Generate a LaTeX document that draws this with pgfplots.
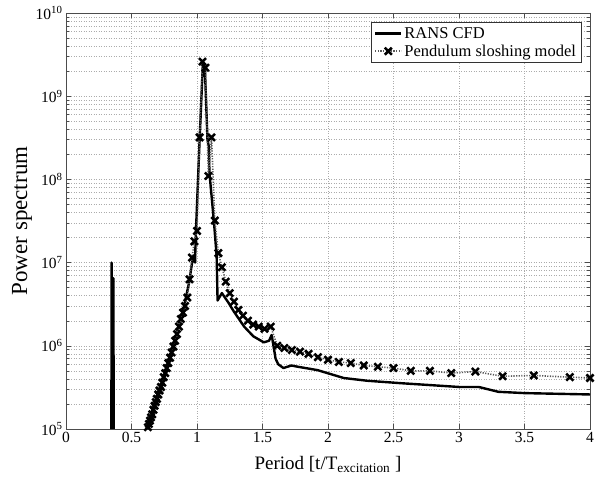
\documentclass[border=0pt]{standalone}
\usepackage{pgfplots}
\pgfplotsset{compat=1.18}
\usepackage{fontspec}
\setmainfont{Liberation Serif}
\begin{document}
\begin{tikzpicture}
\begin{axis}[
  at={(0,0)}, anchor=south west,
  scale only axis, width=524bp, height=416bp,
  ymode=log,
  xmin=0, xmax=4, ymin=1e5, ymax=1e10,
  xtick={0,0.5,1,1.5,2,2.5,3,3.5,4},
  xticklabels={0,0.5,1,1.5,2,2.5,3,3.5,4},
  ytick={1e5,1e6,1e7,1e8,1e9,1e10},
  yticklabels={10\textsuperscript{5},10\textsuperscript{6},10\textsuperscript{7},10\textsuperscript{8},10\textsuperscript{9},10\textsuperscript{10}},
  minor ytick={2e5,3e5,4e5,5e5,6e5,7e5,8e5,9e5,2e6,3e6,4e6,5e6,6e6,7e6,8e6,9e6,2e7,3e7,4e7,5e7,6e7,7e7,8e7,9e7,2e8,3e8,4e8,5e8,6e8,7e8,8e8,9e8,2e9,3e9,4e9,5e9,6e9,7e9,8e9,9e9},
  xtick pos=both, ytick pos=both,
  tick align=inside,
  major tick length=5bp, minor tick length=3bp,
  every tick/.style={black!70, line width=0.5bp},
  axis line style={black!70, line width=0.7bp},
  grid=both,
  major grid style={gray!65, line width=0.5bp, dash pattern=on 0.8bp off 1.7bp},
  minor grid style={gray!65, line width=0.5bp, dash pattern=on 0.8bp off 1.7bp},
  ticklabel style={font=\fontsize{15.5bp}{17bp}\selectfont},
  xlabel={Period [t/T\textsubscript{excitation} ]},
  ylabel={Power spectrum},
  xlabel style={font=\fontsize{19bp}{21bp}\selectfont, at={(axis description cs:0.5,-0.085)}, anchor=center},
  ylabel style={font=\fontsize{23bp}{25bp}\selectfont, at={(axis description cs:-0.084,0.5)}, anchor=center},
  legend style={at={(0.983,0.978)}, anchor=north east, draw=black!80, fill=white,
    font=\fontsize{16.5bp}{19bp}\selectfont, row sep=1bp, inner sep=3bp},
  legend cell align=left,
  legend image code/.code={\draw[mark repeat=2,mark phase=2,#1] plot coordinates {(0bp,0bp) (13bp,0bp) (26bp,0bp)};},
]
\addplot[black, line width=2.4bp, line join=round] coordinates {
(0.30,1e3) (0.345,1e3) (0.348,1.0e7) (0.351,1e3) (0.358,1e3) (0.362,6.5e6) (0.366,1e3)
(0.55,1e3) (0.60,8.5e4) (0.65,1.4e5) (0.70,2.4e5) (0.75,4.3e5) (0.80,7.8e5)
(0.85,1.45e6) (0.90,2.9e6) (0.94,5.8e6) (0.97,1.2e7) (0.985,1.0e7) (0.99,2.0e7)
(1.02,3e8) (1.045,2.5e9) (1.06,2.2e9) (1.08,3e8) (1.09,2.5e8) (1.095,1.2e8)
(1.13,3e7) (1.15,1.2e7) (1.157,3.5e6) (1.19,4.3e6) (1.24,3.3e6) (1.28,2.6e6)
(1.36,1.7e6) (1.43,1.3e6) (1.51,1.1e6) (1.55,1.15e6) (1.57,1.35e6) (1.60,7e5)
(1.62,6.0e5) (1.66,5.4e5) (1.72,5.8e5) (1.77,5.6e5) (1.92,5.1e5) (2.12,4.1e5)
(2.3,3.8e5) (2.56,3.55e5) (3.0,3.2e5) (3.15,3.2e5) (3.30,2.8e5) (3.5,2.7e5) (4.0,2.6e5)
};
\addlegendentry{RANS CFD}
\addplot[gray!70!black, line width=1.6bp, dash pattern=on 1.2bp off 1.4bp,
  mark=x, mark size=5bp, mark options={black, solid, line width=2.5bp}] coordinates {
(4.0,4.1e5) (3.846,4.2e5) (3.571,4.4e5) (3.333,4.3e5) (3.125,4.9e5) (2.941,4.7e5)
(2.778,5.0e5) (2.632,5.0e5) (2.500,5.4e5) (2.381,5.6e5) (2.273,5.8e5) (2.174,6.2e5)
(2.083,6.4e5) (2.000,6.8e5) (1.923,7.3e5) (1.852,8.0e5) (1.786,8.5e5) (1.724,8.9e5)
(1.667,9.4e5) (1.613,1.0e6) (1.5625,1.7e6) (1.515,1.6e6) (1.471,1.7e6) (1.429,1.8e6)
(1.389,2.0e6) (1.351,2.3e6) (1.316,2.7e6) (1.282,3.4e6) (1.250,4.3e6) (1.220,5.9e6)
(1.190,8.8e6) (1.163,1.3e7) (1.136,3.2e7) (1.111,3.2e8) (1.087,1.1e8) (1.064,2.2e9)
(1.042,2.6e9) (1.020,3.2e8) (1.000,2.4e7) (0.980,1.8e7) (0.962,1.15e7) (0.943,6.3e6)
(0.926,3.8e6) (0.909,3.0e6) (0.893,2.5e6) (0.877,2.1e6) (0.862,1.7e6) (0.847,1.38e6)
(0.833,1.15e6) (0.820,9.8e5) (0.806,8.3e5) (0.794,7.2e5) (0.781,6.2e5) (0.769,5.4e5)
(0.758,4.7e5) (0.746,4.2e5) (0.735,3.6e5) (0.725,3.2e5) (0.714,2.9e5) (0.704,2.6e5)
(0.694,2.3e5) (0.685,2.1e5) (0.676,1.9e5) (0.667,1.7e5) (0.658,1.5e5) (0.649,1.38e5)
(0.641,1.26e5) (0.633,1.15e5) (0.625,1.05e5) (0.617,9.6e4)
};
\addlegendentry{Pendulum sloshing model}
\end{axis}
\path (-66bp,-52bp) rectangle (541bp,429bp);
\end{tikzpicture}
\end{document}
